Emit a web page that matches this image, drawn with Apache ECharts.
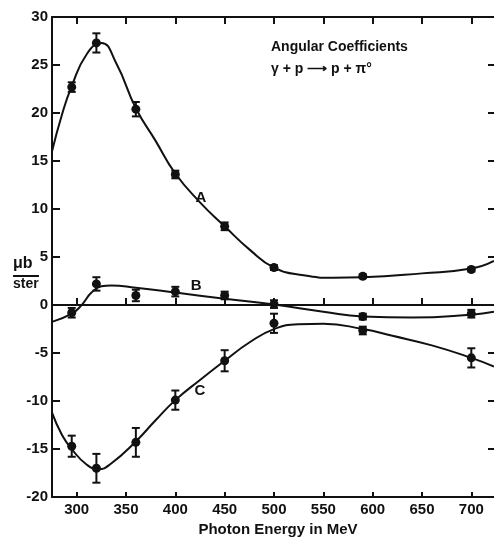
<!DOCTYPE html>
<html>
<head>
<meta charset="utf-8">
<title>Angular Coefficients</title>
<script src="https://cdn.jsdelivr.net/npm/echarts@6/dist/echarts.min.js"></script>
<style>
  html, body { margin: 0; padding: 0; background: #fff; }
  #chart { width: 494px; height: 542px; }
</style>
</head>
<body>
<div id="chart"></div>
<script>
// measured points (photon energy in MeV)
var energy = [295, 320, 360, 400, 450, 500, 590, 700];
var coefA = [22.7, 27.3, 20.4, 13.6, 8.2, 3.9, 3.0, 3.7];
var errA  = [0.5, 1.0, 0.75, 0.4, 0.4, 0.25, 0.2, 0.2];
var coefB = [-0.8, 2.2, 1.0, 1.4, 1.0, 0.1, -1.2, -0.9];
var errB  = [0.5, 0.7, 0.6, 0.5, 0.4, 0.4, 0.3, 0.4];
var coefC = [-14.7, -17.0, -14.3, -9.9, -5.8, -1.9, -2.65, -5.5];
var errC  = [1.1, 1.5, 1.5, 1.0, 1.1, 1.0, 0.4, 1.0];

// hand-drawn fit curves
var curveA = [[275, 16], [285, 19.8], [295, 22.8], [310, 26.1], [325, 27.3], [340, 25.2],
  [360, 20.5], [380, 17.1], [400, 13.7], [425, 10.7], [450, 8.2], [475, 5.8], [500, 3.9],
  [530, 3.1], [560, 2.85], [590, 2.9], [650, 3.3], [700, 3.8], [723, 4.6]];
var curveB = [[275, -1.75], [295, -0.9], [305, 0], [315, 1.3], [325, 1.95], [335, 2.05], [360, 1.8],
  [400, 1.3], [450, 0.65], [500, 0.05], [550, -0.7], [590, -1.2], [640, -1.3], [700, -1.0], [723, -0.7]];
var curveC = [[275, -11.2], [285, -13.5], [295, -15.0], [310, -16.6], [322, -17.1], [335, -16.5],
  [360, -14.2], [380, -12.0], [400, -9.9], [425, -7.8], [450, -5.8], [475, -3.9], [500, -2.5],
  [525, -2.0], [550, -1.95], [590, -2.5], [620, -3.2], [660, -4.2], [700, -5.5], [723, -6.4]];

var curveLabels = [[426, 11.2, 'A'], [421, 2.0, 'B'], [425, -8.9, 'C']];

var xTicks = [300, 350, 400, 450, 500, 550, 600, 650, 700];

var font = 'Liberation Sans';
var ink = '#111';

function points(vals) {
  return energy.map(function (e, i) { return [e, vals[i]]; });
}
function bars(vals, errs) {
  return energy.map(function (e, i) { return [e, vals[i], errs[i]]; });
}

function renderErr(params, api) {
  var x = api.value(0), y = api.value(1), e = api.value(2);
  var lo = api.coord([x, y - e]);
  var hi = api.coord([x, y + e]);
  var w = 4;
  var st = { stroke: ink, lineWidth: 2 };
  return {
    type: 'group',
    children: [
      { type: 'line', shape: { x1: lo[0], y1: lo[1], x2: hi[0], y2: hi[1] }, style: st },
      { type: 'line', shape: { x1: lo[0] - w, y1: lo[1], x2: lo[0] + w, y2: lo[1] }, style: st },
      { type: 'line', shape: { x1: hi[0] - w, y1: hi[1], x2: hi[0] + w, y2: hi[1] }, style: st }
    ]
  };
}

var chart = echarts.init(document.getElementById('chart'));

var option = {
  animation: false,
  title: {
    text: 'Angular Coefficients',
    subtext: 'γ + p ⟶ p + π°',
    left: 266,
    top: 35,
    itemGap: 8,
    textStyle: { fontFamily: font, fontSize: 14, fontWeight: 'bold', color: ink },
    subtextStyle: { fontFamily: font, fontSize: 14, fontWeight: 'bold', color: ink }
  },
  grid: { left: 52, right: -2, top: 17, bottom: 36 },
  xAxis: [
    {
      type: 'value', min: 275, max: 723, position: 'bottom',
      axisLine: { onZero: false, lineStyle: { color: ink, width: 2 } },
      axisTick: { inside: true, length: 5, customValues: xTicks, lineStyle: { color: ink, width: 2 } },
      axisLabel: { customValues: xTicks, margin: 5, fontFamily: font, fontSize: 15, fontWeight: 'bold', color: ink },
      splitLine: { show: false },
      name: 'Photon Energy in MeV',
      nameLocation: 'middle',
      nameGap: 22,
      nameTextStyle: { fontFamily: font, fontSize: 15, fontWeight: 'bold', color: ink, padding: [0, 0, 0, 10] }
    },
    {
      type: 'value', min: 275, max: 723, position: 'top',
      axisLine: { onZero: false, lineStyle: { color: ink, width: 2 } },
      axisTick: { inside: true, length: 7, customValues: xTicks, lineStyle: { color: ink, width: 2 } },
      axisLabel: { show: false },
      splitLine: { show: false }
    },
    {
      // zero line with its own upward ticks
      type: 'value', min: 275, max: 723, position: 'bottom',
      axisLine: { onZero: true, onZeroAxisIndex: 0, lineStyle: { color: ink, width: 2 } },
      axisTick: { inside: true, length: 7, customValues: xTicks, lineStyle: { color: ink, width: 2 } },
      axisLabel: { show: false },
      splitLine: { show: false }
    }
  ],
  yAxis: [
    {
      type: 'value', min: -20, max: 30, interval: 5, position: 'left',
      axisLine: { onZero: false, lineStyle: { color: ink, width: 2 } },
      axisTick: { inside: true, length: 8, lineStyle: { color: ink, width: 2 } },
      axisLabel: { margin: 4, fontFamily: font, fontSize: 15, fontWeight: 'bold', color: ink },
      splitLine: { show: false }
    },
    {
      // right frame is cut off in the scan, only its ticks show
      type: 'value', min: -20, max: 30, interval: 5, position: 'right',
      axisLine: { show: false, onZero: false },
      axisTick: { inside: true, length: 6, lineStyle: { color: ink, width: 2 } },
      axisLabel: { show: false },
      splitLine: { show: false }
    }
  ],
  graphic: [
    {
      type: 'text', left: 13, top: 256,
      style: { text: 'μb', fontFamily: font, fontSize: 16, fontWeight: 'bold', fill: ink }
    },
    {
      type: 'line', shape: { x1: 13, y1: 276, x2: 39, y2: 276 },
      style: { stroke: ink, lineWidth: 2 }
    },
    {
      type: 'text', left: 13, top: 277,
      style: { text: 'ster', fontFamily: font, fontSize: 14, fontWeight: 'bold', fill: ink }
    }
  ],
  series: [
    { name: 'A fit', type: 'line', smooth: 0.5, showSymbol: false, data: curveA,
      lineStyle: { color: ink, width: 2 } },
    { name: 'B fit', type: 'line', smooth: 0.5, showSymbol: false, data: curveB,
      lineStyle: { color: ink, width: 2 } },
    { name: 'C fit', type: 'line', smooth: 0.5, showSymbol: false, data: curveC,
      lineStyle: { color: ink, width: 2 } },
    { type: 'custom', renderItem: renderErr, data: bars(coefA, errA), z: 3 },
    { type: 'custom', renderItem: renderErr, data: bars(coefB, errB), z: 3 },
    { type: 'custom', renderItem: renderErr, data: bars(coefC, errC), z: 3 },
    { name: 'A', type: 'scatter', symbol: 'circle', symbolSize: 9, data: points(coefA),
      itemStyle: { color: ink, opacity: 1 }, z: 4 },
    { name: 'B', type: 'scatter', symbol: 'circle', symbolSize: 9, data: points(coefB),
      itemStyle: { color: ink, opacity: 1 }, z: 4 },
    { name: 'C', type: 'scatter', symbol: 'circle', symbolSize: 9, data: points(coefC),
      itemStyle: { color: ink, opacity: 1 }, z: 4 },
    {
      type: 'scatter', symbolSize: 0, data: curveLabels, silent: true,
      itemStyle: { opacity: 1 },
      label: {
        show: true, position: 'inside',
        formatter: function (p) { return p.value[2]; },
        fontFamily: font, fontSize: 15, fontWeight: 'bold', color: ink
      }
    }
  ]
};

chart.setOption(option);
</script>
</body>
</html>
